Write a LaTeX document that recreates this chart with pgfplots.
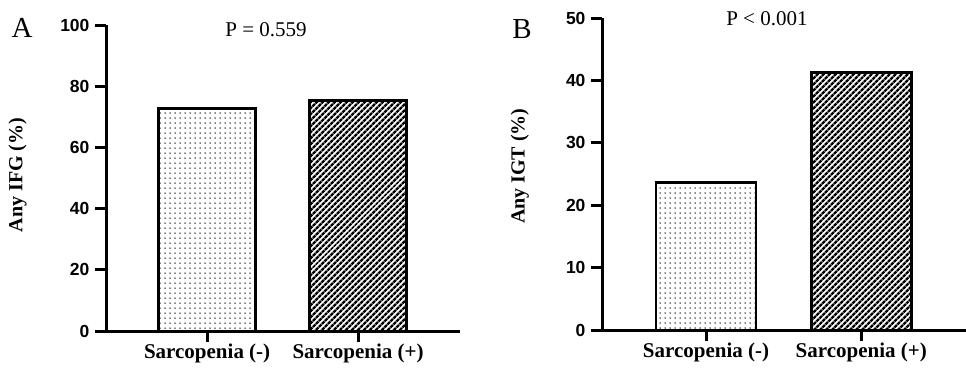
\documentclass[border=0pt]{standalone}
\usepackage{pgfplots}
\pgfplotsset{compat=1.18}
\usepackage{fontspec}
\setmainfont{Liberation Serif}
\newfontfamily\arial{Liberation Sans}
\usetikzlibrary{patterns.meta}
\pgfplotsset{
  panel/.style={
    scale only axis,
    axis x line=bottom, axis y line=left,
    axis line style={-, line width=3pt},
    every tick/.style={black, line width=3pt},
    tick align=outside,
    major tick length=11pt,
    xtick={1,2},
    xticklabels={Sarcopenia (-), Sarcopenia (+)},
    xmin=0.33, xmax=2.675, ymin=0,
    /pgf/number format/assume math mode=true,
    yticklabel style={font=\arial\bfseries\fontsize{17.5}{17.5}\selectfont, xshift=-2pt},
    xticklabel style={font=\bfseries\fontsize{21}{21}\selectfont, yshift=2pt},
    ylabel style={font=\bfseries\fontsize{20}{20}\selectfont, anchor=center},
    clip=false,
  },
  dotbar/.style={ybar, bar width=0.645, bar shift=0, draw=black, line width=2.8pt,
    fill=white, postaction={pattern={Dots[distance=5pt,radius=0.75pt]}, pattern color=black}},
  linebar/.style={ybar, bar width=0.645, bar shift=0, draw=black, line width=2.8pt,
    fill=white, postaction={pattern={Lines[angle=45,distance=4pt,line width=2.6pt]}, pattern color=black}},
}
\begin{document}
\begin{tikzpicture}[x=1pt,y=1pt]
\useasboundingbox (0,0) rectangle (966,368);
\begin{axis}[panel, at={(106pt,37pt)}, anchor=south west,
  width=354pt, height=306pt,
  ymax=100, ytick={0,20,40,60,80,100},
  ylabel={Any IFG (\%)},
  ylabel style={at={(axis description cs:-0.25,0.51)}},
]
\addplot[dotbar] coordinates {(1,72.8)};
\addplot[linebar] coordinates {(2,75.3)};
\node[font=\fontsize{21}{21}\selectfont] at (axis description cs:0.452,0.985) {P = 0.559};
\end{axis}
\begin{axis}[panel, at={(602pt,38pt)}, anchor=south west,
  width=364pt, height=312pt,
  ymax=50, ytick={0,10,20,30,40,50},
  ylabel={Any IGT (\%)},
  ylabel style={at={(axis description cs:-0.226,0.525)}},
]
\addplot[dotbar] coordinates {(1,23.7)};
\addplot[linebar] coordinates {(2,41.3)};
\node[font=\fontsize{21}{21}\selectfont] at (axis description cs:0.453,0.997) {P < 0.001};
\end{axis}
\node[font=\fontsize{29}{29}\selectfont] at (22,340) {A};
\node[font=\fontsize{29}{29}\selectfont] at (522,339) {B};
\end{tikzpicture}
\end{document}
